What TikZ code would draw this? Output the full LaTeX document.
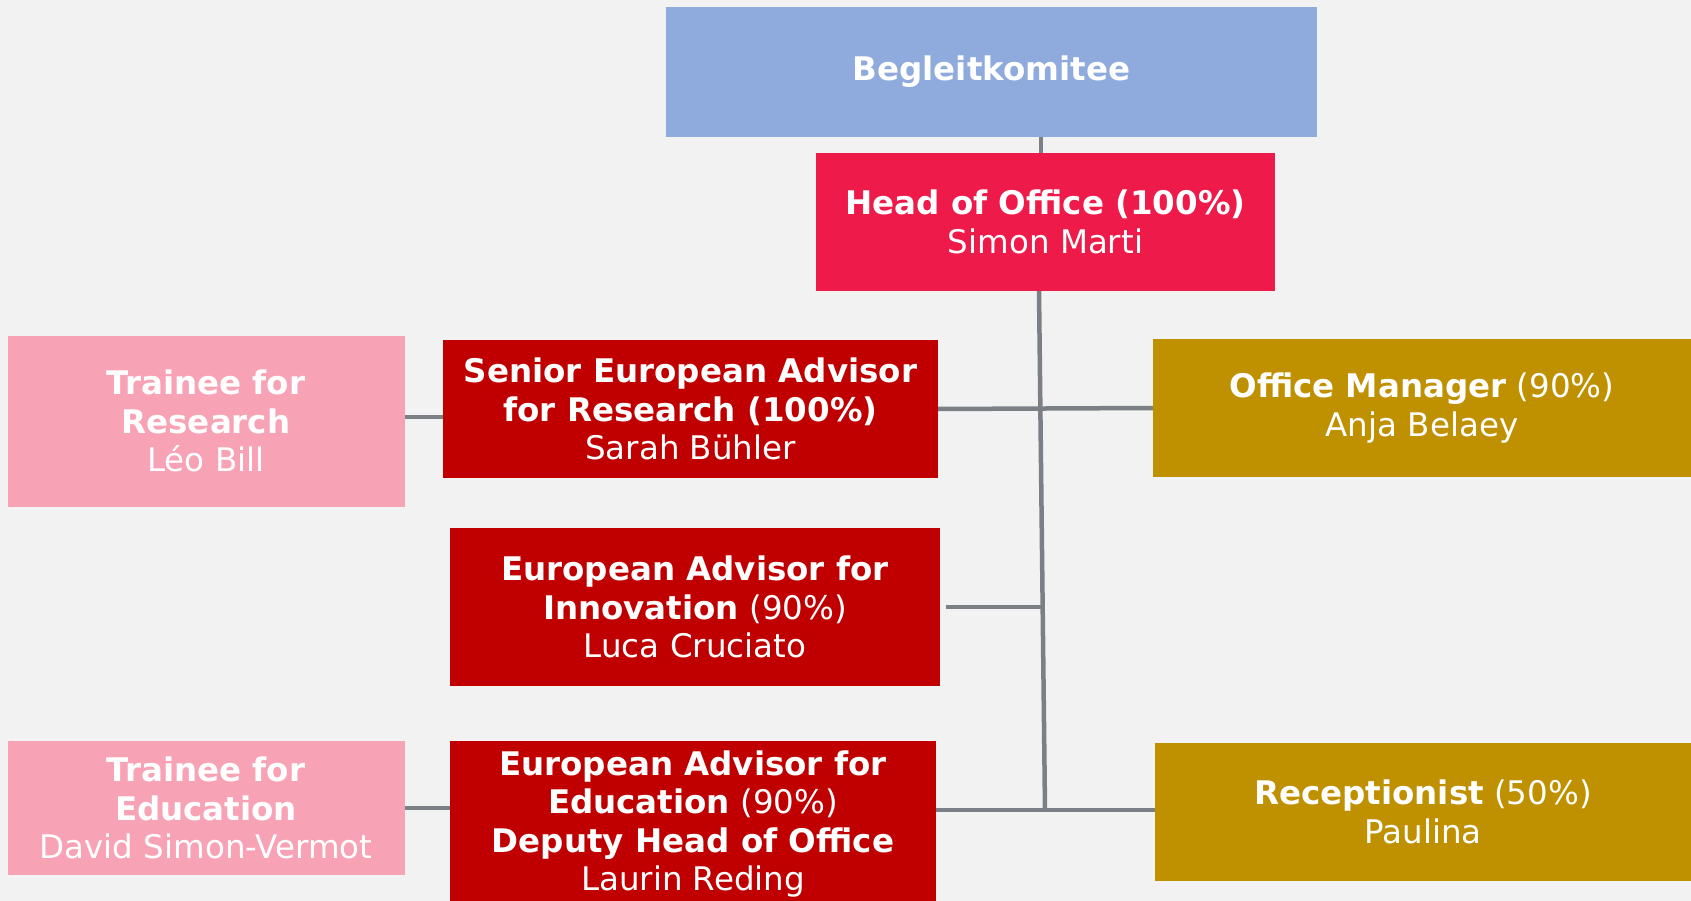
\documentclass[tikz,border=0pt]{standalone}
\usepackage{fontspec}
\setmainfont{DejaVu Sans}
\definecolor{bgcol}{HTML}{F2F2F2}
\definecolor{komblue}{HTML}{8FAADC}
\definecolor{headred}{HTML}{EE1A4A}
\definecolor{advred}{HTML}{C00000}
\definecolor{trainpink}{HTML}{F8A3B5}
\definecolor{staffgold}{HTML}{BF9000}
\definecolor{linegray}{HTML}{7B7F86}

\begin{document}
\begin{tikzpicture}[x=1pt, y=-1pt]
			\tikzset{box/.style={rectangle, inner sep=0pt, align=center, text=white, font={\fontsize{32.5}{38.5}\selectfont}},
				link/.style={draw=linegray, line width=4.5pt}}
			
			\fill[bgcol] (0,0) rectangle (1691,901);
			\useasboundingbox (0,0) rectangle (1691,901);
			
			\node[box, fill=komblue, minimum width=651pt, minimum height=130pt] (k_0) at (991.5,72) {\textbf{Begleitkomitee}};
			\node[box, fill=headred, minimum width=459pt, minimum height=138pt] (h_1) at (1045.5,222) {\textbf{Head of Office (100\%)}\\Simon Marti};
			\node[box, fill=trainpink, minimum width=397pt, minimum height=171pt] (t_1) at (206,421) {\textbf{Trainee for}\\\textbf{Research}\\Léo Bill};
			\node[box, fill=advred, minimum width=495pt, minimum height=138pt] (a_1) at (690.5,409) {\textbf{Senior European Advisor}\\\textbf{for Research (100\%)}\\Sarah Bühler};
			\node[box, fill=staffgold, minimum width=538pt, minimum height=138pt] (o_1) at (1422,408) {\textbf{Office Manager} (90\%)\\Anja Belaey};
			\node[box, fill=advred, minimum width=490pt, minimum height=158pt] (a_2) at (695,607) {\textbf{European Advisor for}\\\textbf{Innovation} (90\%)\\Luca Cruciato};
			\node[box, fill=trainpink, minimum width=397pt, minimum height=134pt] (t_2) at (206,808) {\textbf{Trainee for}\\\textbf{Education}\\David Simon-Vermot};
			\node[box, fill=advred, minimum width=486pt, minimum height=166pt] (a_3) at (693,824) {\textbf{European Advisor for}\\\textbf{Education} (90\%)\\\textbf{Deputy Head of Office}\\Laurin Reding};
			\node[box, fill=staffgold, minimum width=536pt, minimum height=138pt] (o_2) at (1423,812) {\textbf{Receptionist} (50\%)\\Paulina};
			\coordinate (s_end) at (1045,810);
			
			\draw[link] ([xshift=-4.5pt]h_1.north) -- ([xshift=-4.5pt]h_1.north |- k_0.south);
			\draw[link] ([xshift=-6.5pt]h_1.south) -- (s_end);
			\draw[link] (a_1.east) -- (o_1.west);
			\draw[link] ([xshift=6pt]a_2.east) -- ([xshift=-3pt]a_2.east -| h_1.south);
			\draw[link] (a_3.east |- s_end) -- (s_end -| o_2.west);
			\draw[link] ([yshift=4pt]t_1.east) -- ([yshift=4pt]t_1.east -| a_1.west);
			\draw[link] (t_2.east) -- (t_2.east -| a_3.west);
			
		\end{tikzpicture}
\end{document}
